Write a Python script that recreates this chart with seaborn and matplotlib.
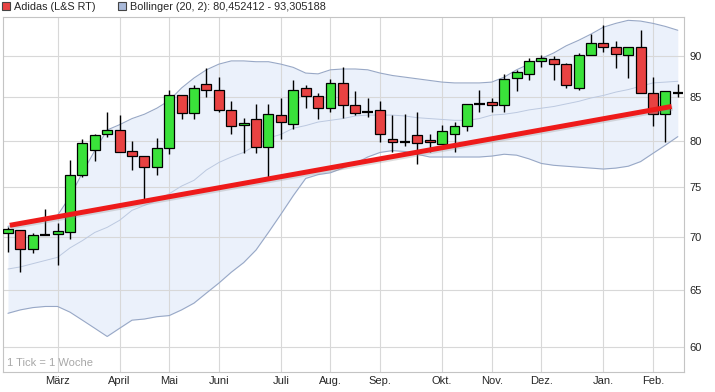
import numpy as np
import pandas as pd
import seaborn as sns
import matplotlib.pyplot as plt
import matplotlib.patheffects as pe
from matplotlib.patches import Patch
from matplotlib.ticker import FixedLocator, FixedFormatter, NullLocator

sns.set_style("white")
plt.rcParams['font.family'] = ['Liberation Sans', 'DejaVu Sans']

# weekly candles, Adidas (L&S RT)
opens = [70.3, 70.6, 68.8, 70.1, 70.2, 70.4, 76.3, 79.0, 80.7, 81.2,
         78.9, 78.3, 77.1, 79.2, 85.3, 83.2, 86.6, 85.8, 83.5, 81.8,
         82.4, 79.3, 82.9, 81.9, 86.1, 85.1, 83.7, 86.7, 84.1, 83.3,
         83.5, 80.2, 79.9, 80.6, 80.1, 79.6, 80.7, 81.7, 84.2, 84.4,
         84.1, 87.3, 87.8, 89.4, 89.7, 89.0, 86.1, 90.2, 91.7, 91.2,
         90.2, 91.2, 85.5, 83.0, 85.5]
highs = [70.9, 70.6, 70.3, 72.7, 71.3, 77.9, 80.2, 80.7, 83.3, 82.9,
         80.0, 78.3, 80.3, 85.8, 85.3, 86.5, 88.5, 87.4, 84.6, 82.6,
         84.2, 84.2, 84.9, 87.0, 86.4, 85.5, 87.2, 88.6, 85.7, 84.9,
         84.6, 82.9, 83.0, 83.3, 80.7, 81.8, 82.1, 84.2, 85.8, 84.9,
         87.8, 88.3, 89.8, 90.2, 90.0, 89.1, 90.4, 92.8, 94.0, 91.9,
         91.2, 93.3, 87.4, 85.7, 86.6]
lows = [68.5, 66.6, 68.4, 70.1, 67.3, 69.8, 76.1, 77.8, 80.4, 78.7,
        76.8, 73.7, 76.3, 78.5, 82.4, 82.5, 85.0, 83.3, 80.7, 78.6,
        78.6, 76.1, 80.2, 81.3, 83.7, 82.5, 83.3, 82.6, 82.9, 82.7,
        79.9, 78.8, 79.4, 77.4, 78.7, 79.6, 78.7, 81.1, 83.3, 83.3,
        83.3, 85.7, 87.1, 88.7, 87.1, 86.1, 85.9, 90.2, 90.5, 88.5,
        87.3, 85.5, 81.7, 79.8, 85.0]
closes = [70.7, 68.8, 70.1, 70.1, 70.5, 76.3, 79.7, 80.6, 81.2, 78.8,
          78.3, 77.1, 79.2, 85.3, 83.2, 86.1, 85.9, 83.5, 81.7, 82.0,
          79.3, 83.0, 82.1, 85.9, 85.1, 83.7, 86.7, 84.1, 83.2, 83.3,
          80.7, 79.8, 79.9, 79.7, 79.9, 81.1, 81.7, 84.2, 84.2, 84.1,
          87.2, 88.0, 89.4, 89.8, 89.0, 86.4, 90.2, 91.7, 91.2, 90.3,
          91.2, 85.5, 83.0, 85.7, 85.5]

# Bollinger (20, 2)
boll_upper = [71.0, 71.2, 71.4, 71.7, 72.1, 74.0, 76.5, 78.9, 81.2, 81.8,
              82.5, 83.0, 83.7, 84.6, 86.1, 87.3, 88.3, 89.0, 89.4, 89.4,
              89.3, 89.3, 89.0, 88.6, 87.9, 87.8, 88.3, 88.4, 88.4, 88.3,
              87.9, 87.6, 87.4, 87.2, 87.0, 86.8, 86.7, 86.7, 86.7, 86.8,
              87.4, 88.3, 89.0, 89.7, 90.4, 91.3, 92.0, 92.8, 93.7, 94.2,
              94.6, 94.5, 94.2, 93.8, 93.3]
boll_mid = [66.9, 67.1, 67.4, 67.7, 68.0, 68.9, 69.6, 70.4, 70.9, 71.6,
            72.6, 73.1, 73.6, 74.3, 75.1, 75.7, 76.8, 77.6, 78.2, 78.7,
            79.5, 80.3, 80.7, 81.4, 81.7, 82.1, 82.3, 82.5, 82.8, 82.9,
            82.9, 82.9, 82.8, 82.6, 82.5, 82.4, 82.3, 82.3, 82.5, 82.9,
            83.0, 83.2, 83.5, 83.7, 83.9, 84.2, 84.5, 84.9, 85.2, 85.6,
            85.9, 86.3, 86.7, 86.8, 86.9]
boll_lower = [62.9, 63.2, 63.4, 63.5, 63.5, 63.0, 62.3, 61.6, 60.9, 61.6,
              62.3, 62.4, 62.6, 62.7, 63.2, 63.8, 64.7, 65.6, 66.6, 67.5,
              68.7, 70.4, 72.2, 74.1, 75.9, 76.3, 76.5, 77.0, 77.5, 78.2,
              78.7, 78.9, 78.8, 78.5, 78.2, 78.2, 78.2, 78.2, 78.2, 78.3,
              78.5, 78.4, 78.0, 77.5, 77.3, 77.2, 77.1, 77.0, 76.9, 77.0,
              77.2, 77.7, 78.6, 79.5, 80.45]

month_labels = ['März', 'April', 'Mai', 'Juni', 'Juli', 'Aug.', 'Sep.',
                'Okt.', 'Nov.', 'Dez.', 'Jan.', 'Feb.']
month_weeks = [4, 9, 13, 17, 22, 26, 30, 35, 39, 43, 48, 52]
price_ticks = [60, 65, 70, 75, 80, 85, 90]

trend_weeks = [0.15, 53.5]
trend_values = [71.1, 83.9]

df = pd.DataFrame({'week': np.arange(len(opens)), 'open': opens, 'high': highs,
                   'low': lows, 'close': closes, 'upper': boll_upper,
                   'mid': boll_mid, 'lower': boll_lower})

fig = plt.figure(figsize=(7.15, 3.92), dpi=100)
ax = fig.add_axes([3 / 715, 20 / 392, 681 / 715, 355 / 392])
ax.set_yscale('log')

# bollinger band
ax.fill_between(df['week'], df['lower'], df['upper'], color='#ebf1fb', lw=0, zorder=1)
sns.lineplot(data=df, x='week', y='upper', ax=ax, color='#98a8c6', lw=0.8, zorder=2)
sns.lineplot(data=df, x='week', y='lower', ax=ax, color='#98a8c6', lw=0.8, zorder=2)
sns.lineplot(data=df, x='week', y='mid', ax=ax, color='#bcc9e0', lw=0.7, zorder=2)

# candles
ax.vlines(df['week'], df['low'], df['high'], color='black', lw=1, zorder=3)
doji = (df['close'] - df['open']).abs() < 0.05
body = df[~doji]
up = body['close'] > body['open']
ax.bar(body['week'], (body['close'] - body['open']).abs(),
       bottom=body[['open', 'close']].min(axis=1), width=0.8,
       color=np.where(up, '#3ae23a', '#e84242'), edgecolor='black', lw=0.9, zorder=4)
dj = df[doji]
ax.hlines(dj['close'], dj['week'] - 0.42, dj['week'] + 0.42, color='black', lw=1.6, zorder=4)

# trend line
ax.plot(trend_weeks, trend_values, color='#ee1a1a', lw=3.6, solid_capstyle='butt', zorder=5,
        path_effects=[pe.SimpleLineShadow(offset=(0.8, -1.2), shadow_color='#909090', alpha=0.3),
                      pe.Normal()])

ax.set_xlim(-0.4, 54.5)
ax.set_ylim(57.96, 95.04)
ax.yaxis.set_major_locator(FixedLocator(price_ticks))
ax.yaxis.set_major_formatter(FixedFormatter([str(t) for t in price_ticks]))
ax.yaxis.set_minor_locator(NullLocator())
ax.yaxis.tick_right()
ax.set_xticks(month_weeks, month_labels)
ax.tick_params(axis='y', length=0, pad=4, labelsize=8)
ax.tick_params(axis='x', length=0, pad=3, labelsize=8)
ax.set_xlabel('')
ax.set_ylabel('')
ax.grid(True, color='#d8d8d8', lw=0.8)
ax.set_axisbelow('line')
for s in ax.spines.values():
    s.set_color('#c4c4c4')
    s.set_linewidth(0.8)

ax.text(0.006, 0.012, '1 Tick = 1 Woche', transform=ax.transAxes, color='#a8a8a8',
        fontsize=8, va='bottom', ha='left')

handles = [Patch(facecolor='#e84242', edgecolor='#444444', lw=0.8),
           Patch(facecolor='#a9b9d9', edgecolor='#444444', lw=0.8)]
fig.legend(handles, ['Adidas (L&S RT)', 'Bollinger (20, 2): 80,452412 - 93,305188'],
           loc='upper left', bbox_to_anchor=(0.0, 1.0), ncol=2, frameon=False,
           fontsize=7.8, handlelength=0.75, handleheight=0.75, handletextpad=0.35,
           columnspacing=2.1, borderaxespad=0, borderpad=0.15)

fig.savefig('out.png', dpi=100)
